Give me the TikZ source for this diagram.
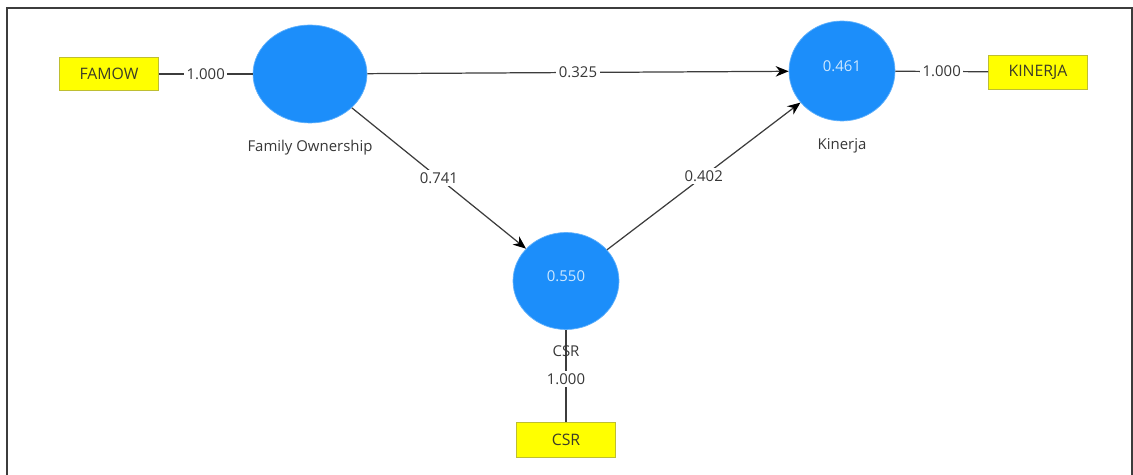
\documentclass[tikz,border=0pt]{standalone}
\usepackage{fontspec}
\setmainfont{Open Sans}
\usetikzlibrary{arrows.meta,shapes.geometric,positioning}
\definecolor{lvblue}{RGB}{28,142,250}
\definecolor{rsqtext}{RGB}{205,232,255}
\definecolor{indyellow}{RGB}{255,255,0}
\definecolor{indborder}{RGB}{190,190,50}
\definecolor{indtext}{RGB}{60,60,40}
\definecolor{labtext}{RGB}{55,55,55}
\definecolor{linegray}{RGB}{60,60,60}
\definecolor{framegray}{RGB}{60,60,60}

\begin{document}
\begin{tikzpicture}[x=0.02cm, y=-0.02cm, >={Stealth[length=2.6mm,width=2.1mm,color=black]},
  font=\fontsize{8.5}{10}\selectfont,
  latent/.style={ellipse, fill=lvblue, draw=lvblue!70!white, text=rsqtext, inner sep=0pt, text depth=0.2cm},
  indicator/.style={rectangle, fill=indyellow, draw=indborder, text=indtext,
    minimum width=1.98cm, minimum height=0.66cm, inner sep=0pt, font=\fontsize{9}{11}\selectfont},
  lvname/.style={text=labtext, inner sep=1pt},
  coef/.style={fill=white, text=labtext, inner sep=1.5pt},
  link/.style={draw=linegray, line width=0.7pt}]
  \useasboundingbox (0,0) rectangle (1133,475);
  % window frame
  \draw[framegray, line width=1pt] (7,475) -- (7,8) -- (1132,8) -- (1132,475);
  % ---------------------------------------------------------------- latent variables
  \node[latent, minimum width=2.28cm, minimum height=1.96cm] (fo) at (310,74) {};
  \node[latent, minimum width=2.12cm, minimum height=2.0cm] (kin) at (842,71) {0.461};
  \node[latent, minimum width=2.12cm, minimum height=1.94cm] (csr) at (566,281) {0.550};
  \node[lvname, below=0.3cm of fo] (folab) {Family Ownership};
  \node[lvname, below=0.3cm of kin] (kinlab) {Kinerja};
  % ---------------------------------------------------------------- indicators
  \node[indicator] (famow) at (109,74) {FAMOW};
  \node[indicator, minimum height=0.68cm] (kinbox) at (1038,72) {KINERJA};
  \node[indicator, minimum height=0.7cm] (csrbox) at (566,440) {CSR};
  % ---------------------------------------------------------------- outer loadings
  \draw[link] (famow) -- node[coef] {1.000} (fo);
  \draw[link] (kin) -- node[coef] {1.000} (kinbox);
  \draw[link] (csr) -- node[coef, pos=0.53] {1.000} (csrbox);
  \node[lvname, below=0.27cm of csr] (csrlab) {CSR};
  % ---------------------------------------------------------------- inner paths
  \draw[link, ->] (fo) -- node[coef] {0.325} (kin);
  \draw[link, ->] (fo) -- node[coef] {0.741} (csr);
  \draw[link, ->] (csr) -- node[coef] {0.402} (kin);
\end{tikzpicture}
\end{document}
